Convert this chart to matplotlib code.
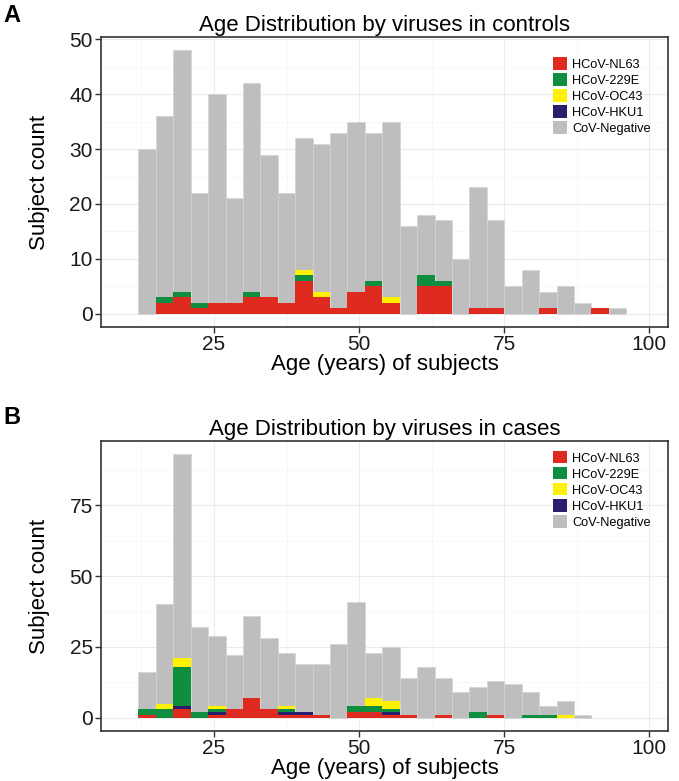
import numpy as np
import matplotlib
matplotlib.use("Agg")
import matplotlib.pyplot as plt
from matplotlib.patches import Patch
from matplotlib.ticker import MultipleLocator

plt.rcParams['font.family'] = ['Liberation Sans', 'DejaVu Sans']

# age bins (left edges, 3-year bins)
bins_controls = list(range(12, 96, 3))
bins_cases = list(range(12, 90, 3))

# panel A: controls (total subject count per bin)
total_controls = [30, 36, 48, 22, 40, 21, 42, 29, 22, 32, 31, 33, 35, 33,
                  35, 16, 18, 17, 10, 23, 17, 5, 8, 4, 5, 2, 1, 1]
nl63_controls = [0, 2, 3, 1, 2, 2, 3, 3, 2, 6, 3, 1, 4, 5,
                 2, 0, 5, 5, 0, 1, 1, 0, 0, 1, 0, 0, 1, 0]
e229_controls = [0, 1, 1, 1, 0, 0, 1, 0, 0, 1, 0, 0, 0, 1,
                 0, 0, 2, 1, 0, 0, 0, 0, 0, 0, 0, 0, 0, 0]
oc43_controls = [0, 0, 0, 0, 0, 0, 0, 0, 0, 1, 1, 0, 0, 0,
                 1, 0, 0, 0, 0, 0, 0, 0, 0, 0, 0, 0, 0, 0]
hku1_controls = [0] * 28

# panel B: cases
total_cases = [16, 40, 93, 32, 29, 22, 36, 28, 23, 19, 19, 26, 41, 23,
               25, 14, 18, 14, 9, 11, 13, 12, 9, 4, 6, 1]
nl63_cases = [1, 0, 3, 0, 1, 3, 7, 3, 1, 1, 1, 0, 2, 2,
              1, 1, 0, 1, 0, 0, 1, 0, 0, 0, 0, 0]
e229_cases = [2, 3, 14, 2, 1, 0, 0, 0, 1, 0, 0, 0, 2, 2,
              1, 0, 0, 0, 0, 2, 0, 0, 1, 1, 0, 0]
oc43_cases = [0, 2, 3, 0, 1, 0, 0, 0, 1, 0, 0, 0, 0, 3,
              3, 0, 0, 0, 0, 0, 0, 0, 0, 0, 1, 0]
hku1_cases = [0, 0, 1, 0, 1, 0, 0, 0, 1, 1, 0, 0, 0, 0,
              1, 0, 0, 0, 0, 0, 0, 0, 0, 0, 0, 0]

labels = ["HCoV-NL63", "HCoV-229E", "HCoV-OC43", "HCoV-HKU1", "CoV-Negative"]
colors = {"HCoV-NL63": "#DF2A1F", "HCoV-229E": "#0E8E3E",
          "HCoV-OC43": "#FFF100", "HCoV-HKU1": "#2A1D6E",
          "CoV-Negative": "#BEBEBE"}


def draw_panel(ax, bins, total, nl63, hku1, e229, oc43, title, ymax, ystep, leg_top):
    bins = np.array(bins)
    neg = np.array(total) - np.array(nl63) - np.array(hku1) - np.array(e229) - np.array(oc43)
    bottom = np.zeros(len(bins))
    # stacking order from bottom as in the figure
    for name, vals in [("HCoV-NL63", nl63), ("HCoV-HKU1", hku1),
                       ("HCoV-229E", e229), ("HCoV-OC43", oc43),
                       ("CoV-Negative", neg)]:
        vals = np.array(vals)
        if name == "CoV-Negative":
            ax.bar(bins, vals, width=3, bottom=bottom, align="edge",
                   color=colors[name], edgecolor="#D4D4D4", linewidth=0.5, zorder=2)
        else:
            ax.bar(bins, vals, width=3, bottom=bottom, align="edge",
                   color=colors[name], linewidth=0, zorder=3)
        bottom = bottom + vals

    ax.set_xlim(5.55, 103.2)
    ax.set_ylim(-0.05 * ymax, ymax * 1.05)
    ax.xaxis.set_minor_locator(MultipleLocator(12.5))
    ax.yaxis.set_major_locator(MultipleLocator(ystep))
    ax.yaxis.set_minor_locator(MultipleLocator(ystep / 2))
    ax.set_xticks([25, 50, 75, 100])
    ax.grid(which="major", color="#EBEBEB", linewidth=0.8, zorder=0)
    ax.grid(which="minor", color="#F5F5F5", linewidth=0.5, zorder=0)
    ax.set_axisbelow(True)
    ax.tick_params(which="major", direction="out", length=4, width=1,
                   color="#333333", labelsize=15, labelcolor="#1A1A1A", pad=2)
    ax.tick_params(which="minor", length=0)
    for s in ax.spines.values():
        s.set_color("#333333")
        s.set_linewidth(1.2)
    ax.set_title(title, fontsize=16, pad=4)
    ax.set_xlabel("Age (years) of subjects", fontsize=16, labelpad=0)
    ax.set_ylabel("Subject count", fontsize=16, labelpad=14)

    handles = [Patch(facecolor=colors[l], edgecolor="none") for l in labels]
    ax.legend(handles, labels, loc="upper left", bbox_to_anchor=(0.797, leg_top),
              frameon=False, fontsize=9.2, handlelength=1.1, handleheight=1.1,
              handletextpad=0.4, labelspacing=0.2, borderpad=0, borderaxespad=0)


fig = plt.figure(figsize=(6.79, 7.81), dpi=100)
axA = fig.add_axes([101 / 679, (781 - 327) / 781, 567 / 679, 290 / 781])
axB = fig.add_axes([101 / 679, (781 - 731) / 781, 567 / 679, 290 / 781])

draw_panel(axA, bins_controls, total_controls, nl63_controls, hku1_controls,
           e229_controls, oc43_controls, "Age Distribution by viruses in controls", 48, 10, 0.93)
draw_panel(axB, bins_cases, total_cases, nl63_cases, hku1_cases,
           e229_cases, oc43_cases, "Age Distribution by viruses in cases", 93, 25, 0.965)

fig.text(3 / 679, 1 - 15 / 781, "A", fontsize=17, fontweight="bold", va="center", ha="left")
fig.text(3 / 679, 1 - 418 / 781, "B", fontsize=17, fontweight="bold", va="center", ha="left")

fig.savefig("out.png", dpi=100)
